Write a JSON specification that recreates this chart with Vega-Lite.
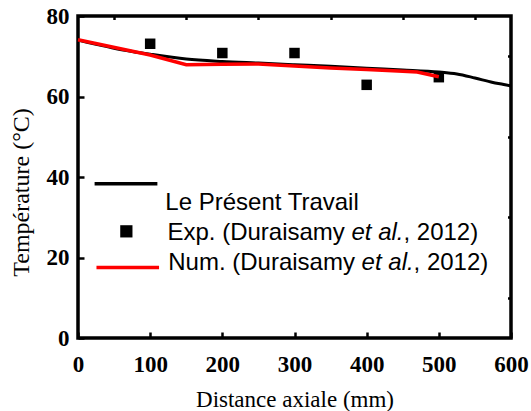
{
  "$schema": "https://vega.github.io/schema/vega-lite/v6.json",
  "autosize": "none",
  "width": 433,
  "height": 322,
  "padding": {"left": 78, "top": 16, "right": 20, "bottom": 73},
  "background": "white",
  "config": {
    "view": {"stroke": "black", "strokeWidth": 3.5},
    "axis": {"domain": false, "grid": false, "tickColor": "black", "labelColor": "black", "titleColor": "black"}
  },
  "datasets": {
    "present": [
      {"x": 0, "T": 74.0}, {"x": 25, "T": 73.0}, {"x": 50, "T": 72.0}, {"x": 75, "T": 71.2},
      {"x": 100, "T": 70.5}, {"x": 150, "T": 69.3}, {"x": 200, "T": 68.7}, {"x": 250, "T": 68.3},
      {"x": 300, "T": 67.9}, {"x": 350, "T": 67.5}, {"x": 400, "T": 67.0}, {"x": 450, "T": 66.6},
      {"x": 500, "T": 66.1}, {"x": 525, "T": 65.6}, {"x": 550, "T": 64.6}, {"x": 575, "T": 63.5},
      {"x": 590, "T": 63.0}, {"x": 600, "T": 62.6}
    ],
    "num": [
      {"x": 0, "T": 74.1}, {"x": 100, "T": 70.3}, {"x": 150, "T": 67.9}, {"x": 200, "T": 68.0},
      {"x": 250, "T": 68.1}, {"x": 300, "T": 67.6}, {"x": 350, "T": 67.1}, {"x": 400, "T": 66.7},
      {"x": 450, "T": 66.3}, {"x": 470, "T": 66.1}, {"x": 500, "T": 64.9}
    ],
    "exp": [
      {"x": 100, "T": 73.1}, {"x": 200, "T": 70.8}, {"x": 300, "T": 70.8}, {"x": 400, "T": 62.9}, {"x": 500, "T": 64.8}
    ],
    "legline": [
      {"x": 23, "T": 38.3, "g": "present"}, {"x": 110, "T": 38.3, "g": "present"},
      {"x": 25.6, "T": 17.5, "g": "num"}, {"x": 112.3, "T": 17.5, "g": "num"}
    ],
    "legtext": [
      {"x": 121, "T": 31.8, "label": "Le Présent Travail", "style": "normal"},
      {"x": 124, "T": 24.3, "label": "Exp. (Duraisamy ", "style": "normal"},
      {"x": 379, "T": 24.3, "label": "et al.", "style": "italic"},
      {"x": 451, "T": 24.3, "label": ", 2012)", "style": "normal"},
      {"x": 125, "T": 16.9, "label": "Num. (Duraisamy ", "style": "normal"},
      {"x": 393, "T": 16.9, "label": "et al.", "style": "italic"},
      {"x": 465, "T": 16.9, "label": ", 2012)", "style": "normal"}
    ],
    "legsq": [{"x": 67, "T": 26.5}]
  },
  "resolve": {"axis": {"x": "independent", "y": "independent"}},
  "layer": [
    {
      "data": {"name": "exp"},
      "mark": {"type": "point", "shape": "square", "filled": true, "color": "black", "size": 110, "opacity": 1},
      "encoding": {
        "x": {"field": "x", "type": "quantitative", "scale": {"domain": [0, 600], "nice": false},
          "axis": {"values": [0, 100, 200, 300, 400, 500, 600], "tickSize": -6, "tickWidth": 2.5, "labelPadding": 21,
            "labelFont": "Liberation Serif", "labelFontWeight": "bold", "labelFontSize": 23, "labelFlush": false, "labelColor": "black",
            "title": "Distance axiale (mm)", "titleFont": "Liberation Serif", "titleFontWeight": "normal", "titleFontSize": 23, "titlePadding": 12, "titleColor": "#000000"}},
        "y": {"field": "T", "type": "quantitative", "scale": {"domain": [0, 80], "nice": false},
          "axis": {"values": [0, 20, 40, 60, 80], "tickSize": -6, "tickWidth": 2.5, "labelPadding": 15,
            "labelFont": "Liberation Serif", "labelFontWeight": "bold", "labelFontSize": 23, "labelFlush": false, "labelColor": "black",
            "title": "Température (°C)", "titleFont": "Liberation Serif", "titleFontWeight": "normal", "titleFontSize": 24, "titleColor": "#000000",
            "titleX": -57, "titleY": 176, "titleBaseline": "middle", "titleAngle": -90}}
      }
    },
    {
      "data": {"name": "present"},
      "mark": {"type": "line", "color": "black", "strokeWidth": 3, "interpolate": "monotone"},
      "encoding": {
        "x": {"field": "x", "type": "quantitative",
          "axis": {"values": [50, 150, 250, 350, 450, 550], "tickSize": -3.5, "tickWidth": 2.5, "labels": false, "title": null}},
        "y": {"field": "T", "type": "quantitative",
          "axis": {"values": [10, 30, 50, 70], "tickSize": -3.5, "tickWidth": 2.5, "labels": false, "title": null}}
      }
    },
    {
      "data": {"name": "num"},
      "mark": {"type": "line", "color": "#ff0000", "strokeWidth": 3.5},
      "encoding": {
        "x": {"field": "x", "type": "quantitative", "axis": null},
        "y": {"field": "T", "type": "quantitative", "axis": null}
      }
    },
    {
      "data": {"name": "legline"},
      "mark": {"type": "line", "strokeWidth": 3.5},
      "encoding": {
        "x": {"field": "x", "type": "quantitative", "axis": null},
        "y": {"field": "T", "type": "quantitative", "axis": null},
        "detail": {"field": "g"},
        "color": {"field": "g", "type": "nominal", "scale": {"domain": ["present", "num"], "range": ["black", "#ff0000"]}, "legend": null}
      }
    },
    {
      "data": {"name": "legsq"},
      "mark": {"type": "point", "shape": "square", "filled": true, "color": "black", "size": 150, "opacity": 1},
      "encoding": {
        "x": {"field": "x", "type": "quantitative", "axis": null},
        "y": {"field": "T", "type": "quantitative", "axis": null}
      }
    },
    {
      "data": {"name": "legtext"},
      "transform": [{"filter": "datum.style == 'normal'"}],
      "mark": {"type": "text", "align": "left", "baseline": "alphabetic", "font": "Liberation Sans", "fontSize": 24, "color": "black"},
      "encoding": {
        "x": {"field": "x", "type": "quantitative", "axis": null},
        "y": {"field": "T", "type": "quantitative", "axis": null},
        "text": {"field": "label"}
      }
    },
    {
      "data": {"name": "legtext"},
      "transform": [{"filter": "datum.style == 'italic'"}],
      "mark": {"type": "text", "align": "left", "baseline": "alphabetic", "font": "Liberation Sans", "fontSize": 24, "fontStyle": "italic", "color": "black"},
      "encoding": {
        "x": {"field": "x", "type": "quantitative", "axis": null},
        "y": {"field": "T", "type": "quantitative", "axis": null},
        "text": {"field": "label"}
      }
    }
  ]
}
